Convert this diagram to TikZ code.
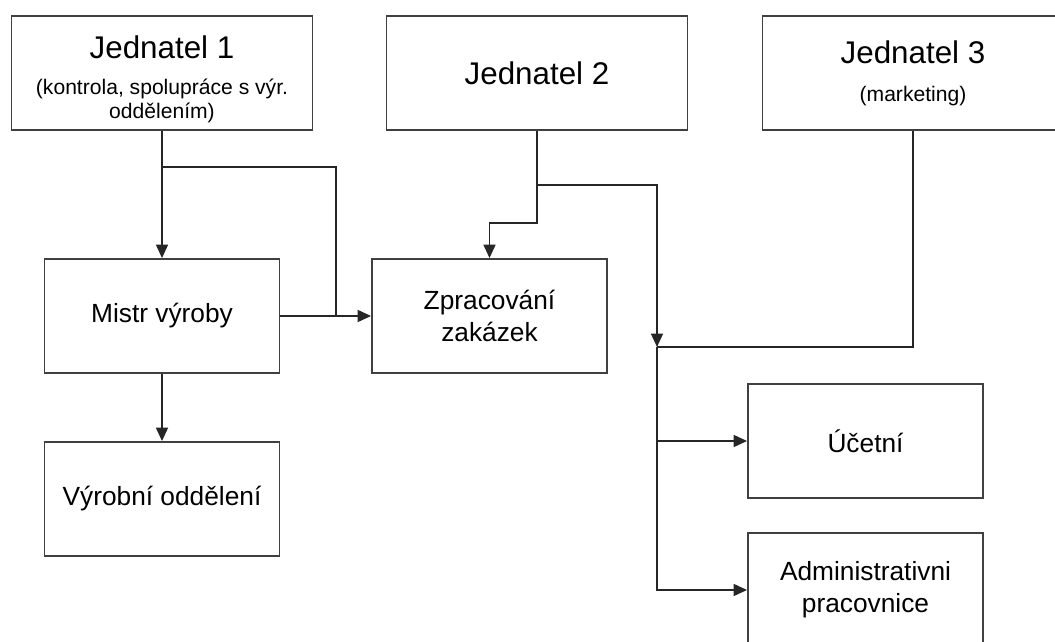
\documentclass[tikz,border=0pt]{standalone}
\usepackage{fontspec}
\setmainfont{Liberation Sans}
\usetikzlibrary{arrows.meta}

\begin{document}
\begin{tikzpicture}[x=0.025cm,y=-0.025cm,
   >={Triangle[length=9.5pt,width=8.5pt]},
   box/.style={draw=black!75,line width=1.3pt,minimum width=5.875cm,minimum height=2.85cm,
     align=center,inner sep=0pt,font=\fontsize{18.7}{22.7}\selectfont},
   topbox/.style={box,minimum width=7.525cm,font=\fontsize{15}{14.2}\selectfont},
   line/.style={draw=black!85,line width=1.1pt}]
   \useasboundingbox (0,0) rectangle (1055,642);
   \node[topbox] (j1) at (162,73) {{\fontsize{22.3}{26}\selectfont\rule{0pt}{25pt}Jednatel 1}\\[11.8pt](kontrola, spolupráce s výr.\\[2.5pt]oddělením)};
   \node[topbox] (j2) at (537,73) {\fontsize{22.3}{26}\selectfont Jednatel 2};
   \node[topbox] (j3) at (913,73) {{\fontsize{22.3}{26}\selectfont Jednatel 3}\\[12.8pt](marketing)};
   \node[box] (mistr) at (162,316) {Mistr výroby};
   \node[box] (zprac) at (489.5,316) {Zpracování\\zakázek};
   \node[box] (vyrob) at (162,499) {Výrobní oddělení};
   \node[box] (ucet) at (865.5,441) {Účetní};
   \node[box] (admin) at (865.5,590) {Administrativni\\pracovnice};
   \coordinate (sp1) at (336,167);
   \coordinate (sp2) at (537,185);
   \coordinate (jn) at (657,347);
   \draw[line,->] (j1) -- (mistr);
   \draw[line] (j1.south |- sp1) -- (sp1) -- (sp1 |- zprac.west);
   \draw[line,->] (mistr) -- (zprac);
   \draw[line,->] (mistr) -- (vyrob);
   \draw[line,->] (j2.south) -- ++(0,92) -| (zprac.north);
   \draw[line,->] (sp2) -| (jn);
   \draw[line] (j3) |- (jn);
   \draw[line,->] (jn) |- (ucet);
   \draw[line,->] (jn) |- (admin);
\end{tikzpicture}
\end{document}
